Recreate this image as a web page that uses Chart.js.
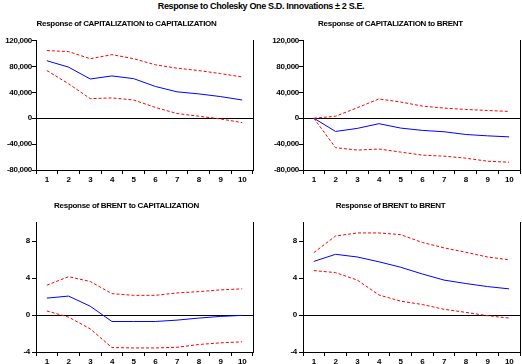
<!DOCTYPE html>
<html>
<head>
<meta charset="utf-8">
<script src="https://cdn.jsdelivr.net/npm/chart.js@4"></script>
<style>
  html, body { margin: 0; padding: 0; background: #fff; }
  #page { position: relative; width: 522px; height: 364px; overflow: hidden; background: #fff; }
  #mainTitle { position: absolute; left: 0; top: 0; width: 522px; text-align: center;
    font: bold 9px "Liberation Sans", Arial, sans-serif; line-height: 13px; letter-spacing: -0.35px; color: #000; }
  canvas { position: absolute; }
</style>
</head>
<body>
<div id="page">
  <div id="mainTitle">Response to Cholesky One S.D. Innovations ± 2 S.E.</div>
  <canvas id="c1" width="261" height="168" style="left:0px;top:14px;width:261px;height:168px"></canvas>
  <canvas id="c2" width="261" height="168" style="left:261px;top:14px;width:261px;height:168px"></canvas>
  <canvas id="c3" width="261" height="168" style="left:0px;top:196px;width:261px;height:168px"></canvas>
  <canvas id="c4" width="261" height="168" style="left:261px;top:196px;width:261px;height:168px"></canvas>
</div>
<script>
// ---- Data ----
const periods = ['1', '2', '3', '4', '5', '6', '7', '8', '9', '10'];

// Response of CAPITALIZATION to CAPITALIZATION
const capCapResp  = [88900, 79000, 60650, 65400, 61200, 49150, 40800, 37650, 33500, 28200];
const capCapUpper = [104600, 103000, 92000, 98300, 92000, 82600, 77400, 73700, 69000, 63800];
const capCapLower = [73700, 53300, 30300, 31400, 28200, 16700, 7300, 3100, -1000, -6800];

// Response of CAPITALIZATION to BRENT
const capBrentResp  = [0, -20400, -15700, -8400, -15200, -18800, -20900, -25100, -27200, -28800];
const capBrentUpper = [0, 3100, 16200, 29800, 25100, 18800, 15700, 13600, 12000, 10500];
const capBrentLower = [0, -45500, -49200, -47600, -52300, -57000, -58600, -61700, -66400, -68000];

// Response of BRENT to CAPITALIZATION
const brentCapResp  = [1.83, 2.05, 0.95, -0.70, -0.70, -0.70, -0.55, -0.33, -0.15, -0.04];
const brentCapUpper = [3.23, 4.15, 3.63, 2.31, 2.13, 2.13, 2.39, 2.53, 2.72, 2.83];
const brentCapLower = [0.44, -0.22, -1.50, -3.52, -3.56, -3.56, -3.49, -3.19, -3.01, -2.90];

// Response of BRENT to BRENT
const brentBrentResp  = [5.80, 6.57, 6.28, 5.76, 5.17, 4.44, 3.78, 3.41, 3.08, 2.83];
const brentBrentUpper = [6.75, 8.55, 8.88, 8.88, 8.70, 7.85, 7.27, 6.79, 6.28, 5.98];
const brentBrentLower = [4.81, 4.59, 3.78, 2.17, 1.50, 1.14, 0.62, 0.29, -0.07, -0.33];

// Axis settings
const capTicks = { min: -80000, max: 120000, step: 40000 };
const brentTicks = { min: -4, max: 10, step: 4 };

const titles = [
  'Response of CAPITALIZATION to CAPITALIZATION',
  'Response of CAPITALIZATION to BRENT',
  'Response of BRENT to CAPITALIZATION',
  'Response of BRENT to BRENT'
];

// ---- Drawing ----
const FONT = '"Liberation Sans", Arial, sans-serif';
const tickFont = { family: FONT, size: 8, weight: 'bold' };

const spacingPlugin = {
  id: 'spacing',
  beforeDraw(chart) { chart.ctx.letterSpacing = '-0.3px'; }
};

function makeChart(id, title, resp, upper, lower, axis, yWidth, rightPad, yPad) {
  const line = (data, color, dash) => ({
    data, borderColor: color, borderWidth: 1, borderDash: dash,
    pointRadius: 0, tension: 0, fill: false
  });
  return new Chart(document.getElementById(id), {
    type: 'line',
    data: {
      labels: periods,
      datasets: [
        line(upper, '#ff0000', [3, 2]),
        line(lower, '#ff0000', [3, 2]),
        line(resp, '#0000ff', [])
      ]
    },
    plugins: [spacingPlugin],
    options: {
      responsive: false,
      animation: false,
      devicePixelRatio: 1,
      layout: { padding: { left: 0, right: rightPad, top: 0, bottom: 0 } },
      plugins: {
        legend: { display: false },
        tooltip: { enabled: false },
        title: {
          display: true, text: title, color: '#000',
          font: { family: FONT, size: 8, weight: 'bold' },
          padding: { top: 5, bottom: 12 }
        }
      },
      scales: {
        x: {
          type: 'category', offset: true,
          grid: { offset: true, drawOnChartArea: false, drawTicks: true, tickLength: 4, tickColor: '#000' },
          border: { color: '#000', width: 1 },
          ticks: { font: tickFont, color: '#000', padding: 1, maxRotation: 0, autoSkip: false },
          afterFit: s => { s.height = 12; }
        },
        y: {
          min: axis.min, max: axis.max,
          ticks: { stepSize: axis.step, includeBounds: false, font: tickFont, color: '#000', padding: yPad },
          grid: {
            color: c => (c.tick && c.tick.value === 0) ? '#000' : 'rgba(0,0,0,0)',
            tickColor: '#000', tickLength: 4, drawTicks: true
          },
          border: { color: '#000', width: 1 },
          afterFit: s => { s.width = yWidth; }
        },
        yR: {
          position: 'right', display: true,
          grid: { display: false }, ticks: { display: false },
          border: { color: '#000', width: 1 },
          afterFit: s => { s.width = 0; }
        }
      }
    }
  });
}

makeChart('c1', titles[0], capCapResp, capCapUpper, capCapLower, capTicks, 36, 8, 0);
makeChart('c2', titles[1], capBrentResp, capBrentUpper, capBrentLower, capTicks, 42, 2, 0);
makeChart('c3', titles[2], brentCapResp, brentCapUpper, brentCapLower, brentTicks, 36, 8, 2);
makeChart('c4', titles[3], brentBrentResp, brentBrentUpper, brentBrentLower, brentTicks, 42, 2, 2);
</script>
</body>
</html>
